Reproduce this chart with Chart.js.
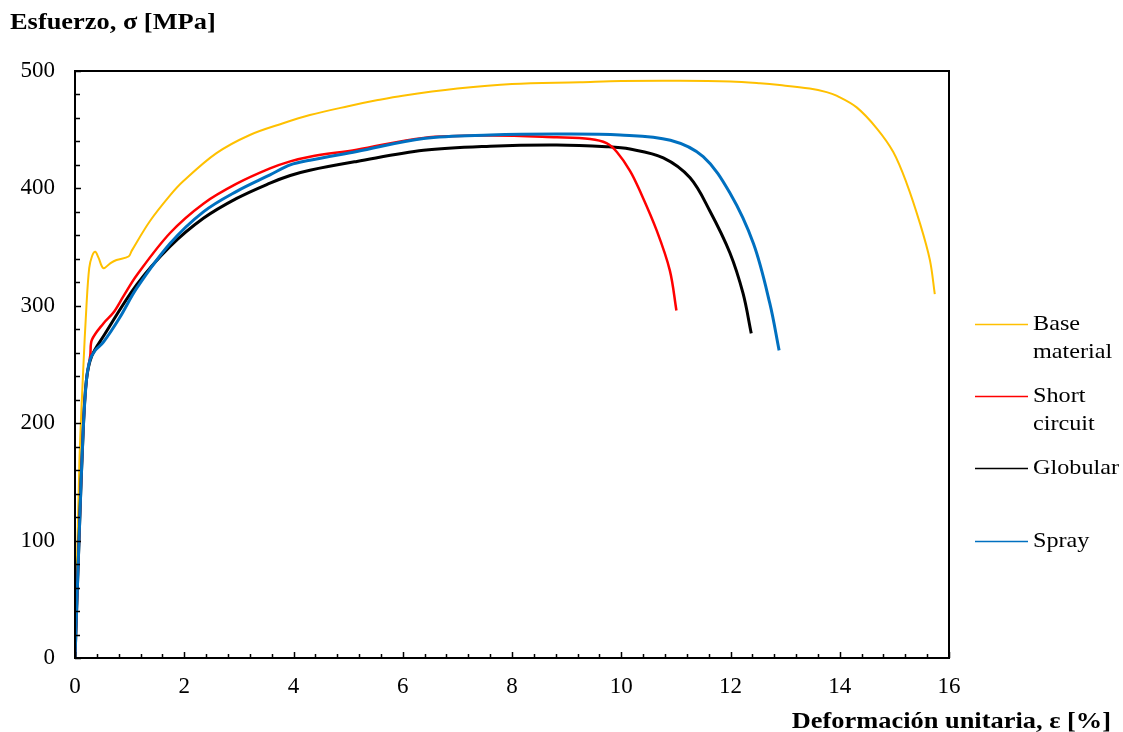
<!DOCTYPE html>
<html>
<head>
<meta charset="utf-8">
<script src="https://cdn.jsdelivr.net/npm/chart.js@4.4.1/dist/chart.umd.min.js"></script>
<style>
  html, body { margin: 0; padding: 0; background: #fff; }
  #wrap { position: relative; width: 1123px; height: 732px; }
</style>
</head>
<body>
<div id="wrap"><canvas id="chart" width="1123" height="732"></canvas></div>
<script>
// ─── Data ──────────────────────────────────────────────────────────────────

const xTicks = [0, 2, 4, 6, 8, 10, 12, 14, 16];
const yTicks = [0, 100, 200, 300, 400, 500];

const seriesNames = [['Base', 'material'], ['Short', 'circuit'], ['Globular'], ['Spray']];

const baseStrain = [0, 0.08, 0.15, 0.21, 0.26, 0.31, 0.37, 0.43, 0.52, 0.64, 0.76, 0.98, 1.04, 1.37, 1.74, 1.98, 2.59, 3.2, 3.81, 4.3, 5.0, 5.52, 6.0, 7.0, 8.0, 9.24, 10.0, 11.08, 12.0, 12.54, 12.9, 13.45, 13.76, 13.94, 14.31, 14.68, 14.98, 15.22, 15.47, 15.65, 15.74];
const baseStress = [0, 166, 245, 300, 332, 342, 346, 341, 332, 336, 339, 342, 347, 372, 394, 406, 430, 445.5, 455.5, 462.5, 470, 475, 479, 485, 489, 490.5, 491.5, 491.7, 491, 489.5, 488, 485, 482, 479, 469, 451, 431, 405, 370, 339, 310];

const shortStrain = [0, 0.08, 0.15, 0.21, 0.28, 0.31, 0.52, 0.70, 0.885, 1.13, 1.74, 2.35, 2.96, 3.57, 3.94, 4.3, 5.16, 6.38, 7.6, 8.82, 9.43, 9.73, 9.92, 10.16, 10.34, 10.65, 10.89, 11.01];
const shortStress = [0, 109, 194, 237, 258, 271, 285, 294, 308, 326, 362, 387, 404, 417, 423, 427, 433, 443, 445, 443.5, 442, 438.5, 431, 415, 398, 364, 330, 296];

const globStrain = [0, 0.08, 0.15, 0.21, 0.305, 0.52, 1.13, 1.74, 2.35, 2.96, 3.57, 3.94, 4.3, 5.16, 6.38, 7.6, 8.82, 9.73, 10.16, 10.77, 11.26, 11.62, 11.99, 12.23, 12.38];
const globStress = [0, 109, 194, 237, 257, 274, 318, 350.5, 374.5, 391.5, 404.5, 411, 415.5, 423, 432.5, 436, 437, 435.5, 433.5, 426, 409, 381, 345, 310.5, 276.5];

const sprayStrain = [0, 0.08, 0.15, 0.21, 0.275, 0.37, 0.52, 0.82, 1.13, 1.74, 2.35, 2.96, 3.57, 3.94, 4.3, 5.16, 6.38, 7.6, 8.82, 9.98, 10.9, 11.5, 11.99, 12.42, 12.72, 12.89];
const sprayStress = [0, 109, 194, 237, 254, 262, 269, 290, 315, 353, 380, 397.5, 411.5, 420, 424, 431.5, 442.5, 445.5, 446.3, 445.5, 441, 427, 396, 353, 302, 262];

// ─── Helpers ───────────────────────────────────────────────────────────────

const FONT = "'Liberation Serif', 'Times New Roman', serif";

function pts(xs, ys) {
  return xs.map((x, i) => ({ x, y: ys[i] }));
}

function line(label, xs, ys, color, width, order) {
  return {
    label,
    data: pts(xs, ys),
    borderColor: color,
    backgroundColor: color,
    borderWidth: width,
    pointRadius: 0,
    showLine: true,
    tension: 0.35,
    order,
  };
}

// text drawn a little wider, like the reference's Times face
function wideText(ctx, text, x, y, sx) {
  ctx.save();
  ctx.translate(x, y);
  ctx.scale(sx, 1);
  ctx.fillText(text, 0, 0);
  ctx.restore();
}

// frame, inward ticks, axis titles and the side legend
const decorations = {
  id: 'decorations',
  afterDraw(chart) {
    const { ctx, chartArea: a, scales: { x, y } } = chart;
    ctx.save();
    ctx.strokeStyle = '#000';
    ctx.lineWidth = 2;
    ctx.strokeRect(a.left, a.top, a.right - a.left, a.bottom - a.top);

    ctx.lineWidth = 1.5;
    ctx.beginPath();
    for (let v = 0; v <= 16.001; v += 0.4) {
      const px = Math.round(x.getPixelForValue(v)) + 0.5;
      const major = Math.abs(v / 2 - Math.round(v / 2)) < 1e-6;
      ctx.moveTo(px, a.bottom);
      ctx.lineTo(px, a.bottom - (major ? 6 : 4));
    }
    for (let v = 0; v <= 500; v += 20) {
      const py = Math.round(y.getPixelForValue(v)) + 0.5;
      const major = v % 100 === 0;
      ctx.moveTo(a.left, py);
      ctx.lineTo(a.left + (major ? 6 : 5), py);
    }
    ctx.stroke();

    ctx.fillStyle = '#000';
    ctx.font = 'bold 24px ' + FONT;
    ctx.textBaseline = 'alphabetic';
    ctx.textAlign = 'left';
    wideText(ctx, 'Esfuerzo, σ [MPa]', 10, 29, 1.1);
    ctx.textAlign = 'right';
    wideText(ctx, 'Deformación unitaria, ε [%]', 1111, 728, 1.1);

    // legend
    const rows = [324, 396, 468, 541];
    ctx.font = '22px ' + FONT;
    ctx.textAlign = 'left';
    ctx.textBaseline = 'middle';
    chart.data.datasets.forEach((ds, i) => {
      const yy = rows[i];
      ctx.strokeStyle = ds.borderColor;
      ctx.lineWidth = 1.5;
      ctx.beginPath();
      ctx.moveTo(975, yy + 0.5);
      ctx.lineTo(1028, yy + 0.5);
      ctx.stroke();
      ds.label.forEach((t, j) => wideText(ctx, t, 1033, yy + j * 28, 1.1));
    });
    ctx.restore();
  },
};

// ─── Chart ────────────────────────────────────────────────────────────────

new Chart(document.getElementById('chart'), {
  type: 'scatter',
  data: {
    datasets: [
      line(seriesNames[0], baseStrain, baseStress, '#FFC000', 2, 4),
      line(seriesNames[1], shortStrain, shortStress, '#FF0000', 2.5, 2),
      line(seriesNames[2], globStrain, globStress, '#000000', 3, 3),
      line(seriesNames[3], sprayStrain, sprayStress, '#0070C0', 3, 1),
    ],
  },
  options: {
    responsive: false,
    animation: false,
    layout: { padding: { left: 0, top: 71, right: 174, bottom: 0 } },
    plugins: { legend: { display: false }, tooltip: { enabled: false } },
    scales: {
      x: {
        type: 'linear',
        min: 0, max: 16,
        afterBuildTicks: s => { s.ticks = xTicks.map(v => ({ value: v })); },
        afterFit: s => { s.height = 74; },
        grid: { display: false, drawTicks: false },
        border: { display: true, color: '#000', width: 2 },
        ticks: { color: '#000', font: { family: FONT, size: 23 }, padding: 15, maxRotation: 0 },
      },
      y: {
        type: 'linear',
        min: 0, max: 500,
        afterBuildTicks: s => { s.ticks = yTicks.map(v => ({ value: v })); },
        afterFit: s => { s.width = 75; },
        grid: { display: false, drawTicks: false },
        border: { display: true, color: '#000', width: 2 },
        ticks: { color: '#000', font: { family: FONT, size: 23 }, padding: 20 },
      },
    },
  },
  plugins: [decorations],
});
</script>
</body>
</html>
